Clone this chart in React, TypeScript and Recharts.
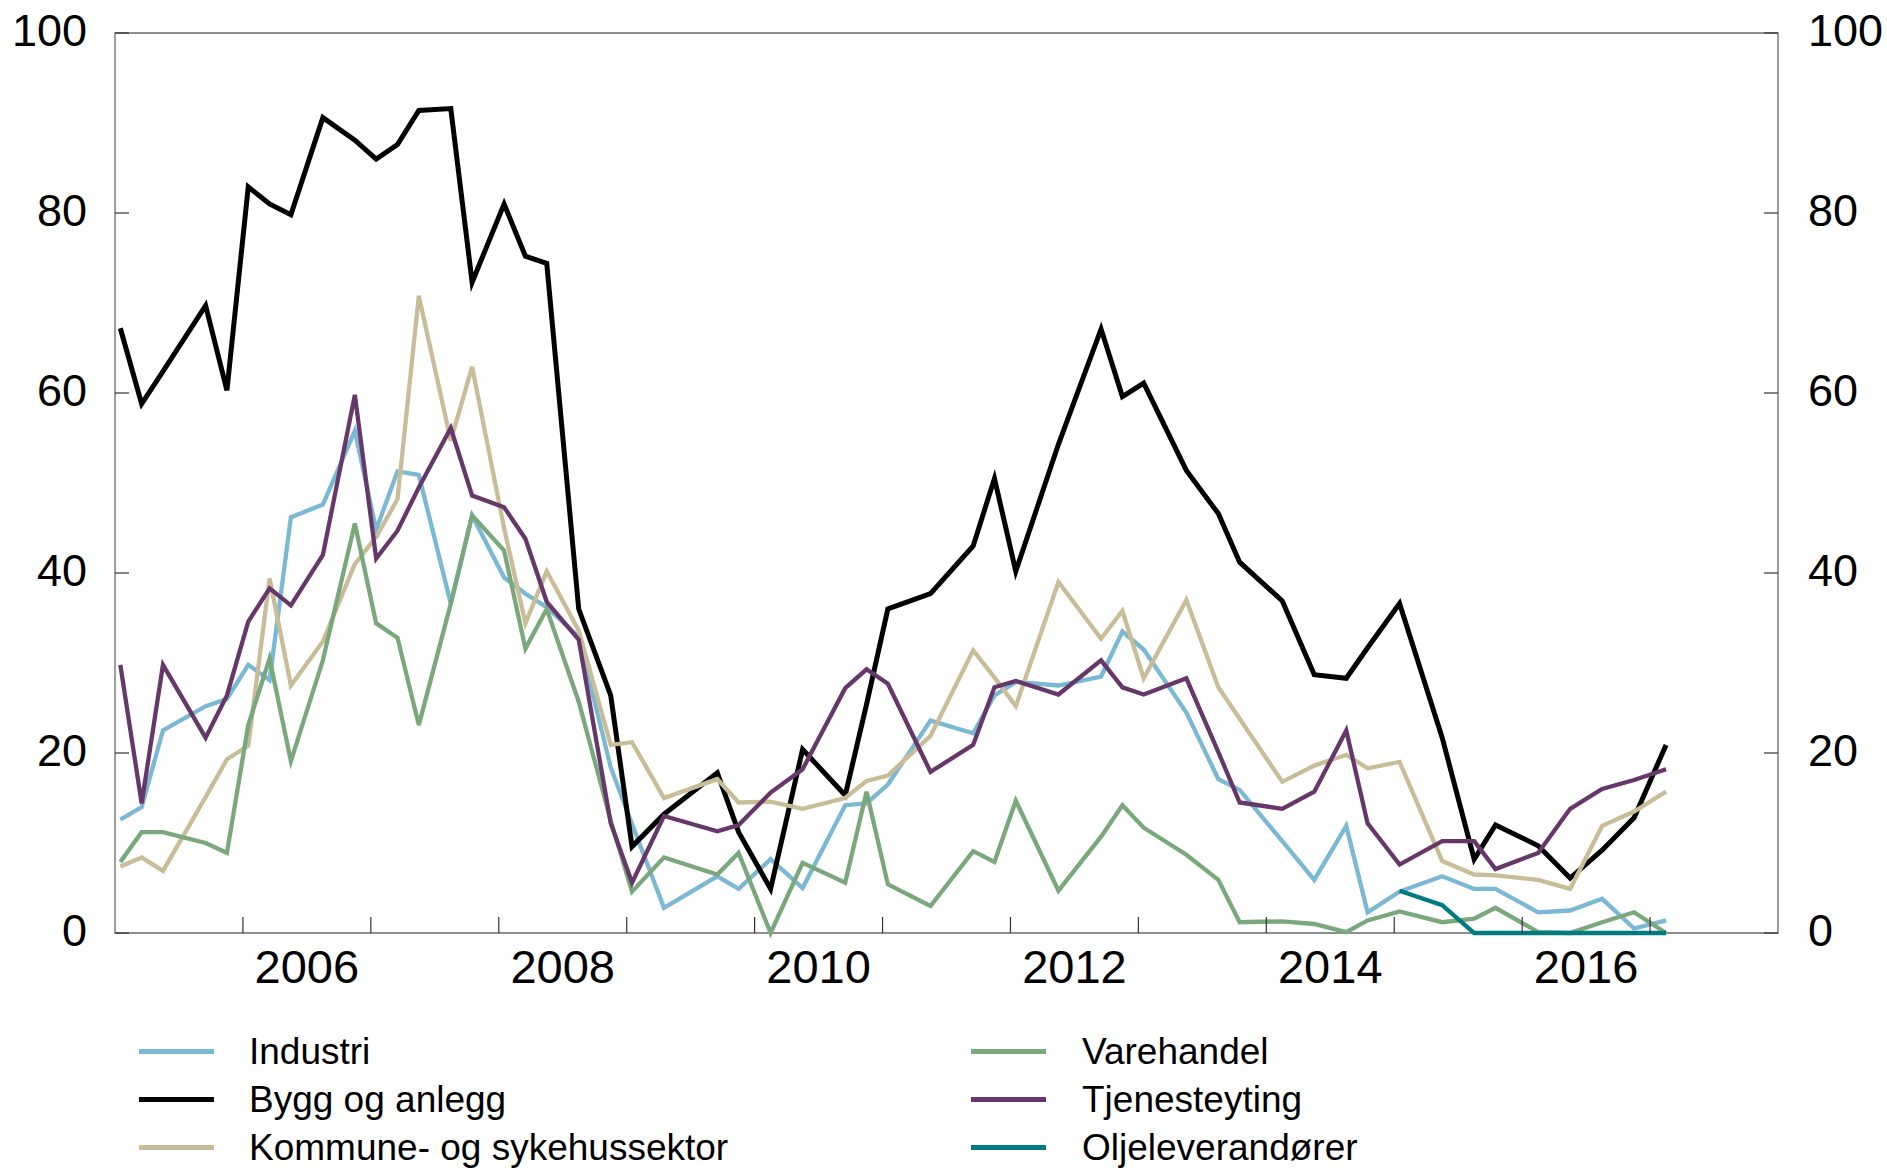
import React from 'react';
import { LineChart, Line, XAxis, YAxis, ReferenceArea } from 'recharts';

// Survey rounds (year-month)
const dates = [
  '2005-01', '2005-03', '2005-05', '2005-09', '2005-11',
  '2006-01', '2006-03', '2006-05', '2006-08', '2006-11',
  '2007-01', '2007-03', '2007-05', '2007-08', '2007-10',
  '2008-01', '2008-03', '2008-05', '2008-08', '2008-11',
  '2009-01', '2009-04', '2009-09', '2009-11',
  '2010-02', '2010-05', '2010-09', '2010-11',
  '2011-01', '2011-05', '2011-09', '2011-11',
  '2012-01', '2012-05', '2012-09', '2012-11',
  '2013-01', '2013-05', '2013-08', '2013-10',
  '2014-02', '2014-05', '2014-08', '2014-10',
  '2015-01', '2015-05', '2015-08', '2015-10',
  '2016-02', '2016-05', '2016-08', '2016-11',
  '2017-02',
];

const industri = [
  12.6, 14.0, 22.5, 25.2, 26.0,
  29.8, 28.1, 46.2, 47.6, 55.8,
  44.8, 51.3, 50.9, 36.6, 46.4,
  39.5, 37.7, 36.2, 32.9, 18.4,
  12.1, 2.8, 6.3, 4.9,
  8.2, 5.0, 14.2, 14.4,
  16.5, 23.6, 22.2, 26.4,
  27.9, 27.5, 28.5, 33.5,
  31.5, 24.5, 17.1, 15.9,
  10.2, 5.9, 11.9, 2.3,
  4.6, 6.3, 4.9, 4.9,
  2.3, 2.5, 3.8, 0.5,
  1.4,
];

const bygg = [
  67.2, 58.8, 62.4, 69.7, 60.3,
  82.9, 81.0, 79.8, 90.6, 88.1,
  86.0, 87.6, 91.4, 91.6, 72.3,
  81.0, 75.2, 74.4, 36.0, 26.4,
  9.6, 13.2, 17.8, 11.2,
  4.9, 20.4, 15.3, 25.4,
  36.0, 37.7, 43.0, 50.5,
  40.2, 54.3, 67.1, 59.6,
  61.1, 51.4, 46.6, 41.2,
  36.9, 28.7, 28.3, 31.7,
  36.6, 21.7, 8.2, 12.0,
  9.7, 6.1, 9.2, 12.8,
  20.9,
];

const kommune = [
  7.4, 8.4, 6.9, 15.1, 19.3,
  20.8, 39.4, 27.5, 32.4, 41.0,
  44.0, 48.2, 70.8, 54.7, 62.9,
  45.0, 34.4, 40.2, 33.6, 20.9,
  21.2, 15.0, 17.1, 14.5,
  14.6, 13.8, 15.0, 16.9,
  17.5, 21.9, 31.4, 28.4,
  25.2, 39.0, 32.7, 35.8,
  28.3, 37.0, 27.3, 23.8,
  16.8, 18.6, 19.8, 18.3,
  19.0, 8.0, 6.5, 6.4,
  5.9, 4.9, 11.9, 13.5,
  15.7,
];

const varehandel = [
  7.9, 11.2, 11.2, 10.0, 8.9,
  23.1, 30.5, 19.1, 30.3, 45.5,
  34.4, 32.8, 23.1, 36.6, 46.4,
  42.5, 31.6, 36.0, 25.7, 12.5,
  4.6, 8.4, 6.5, 8.9,
  0.0, 7.8, 5.6, 15.7,
  5.4, 3.0, 9.1, 7.9,
  14.7, 4.7, 10.7, 14.2,
  11.7, 8.7, 5.9, 1.2,
  1.3, 1.0, 0.1, 1.4,
  2.4, 1.2, 1.6, 2.8,
  0.1, 0.0, 1.2, 2.3,
  0.0,
];

const tjenesteyting = [
  29.8, 14.4, 29.8, 21.7, 26.4,
  34.6, 38.3, 36.4, 42.0, 59.8,
  41.6, 44.7, 49.5, 56.1, 48.6,
  47.3, 43.8, 36.8, 32.6, 12.2,
  5.6, 13.0, 11.3, 12.0,
  15.6, 18.2, 27.2, 29.3,
  27.7, 17.9, 20.9, 27.3,
  28.0, 26.5, 30.3, 27.3,
  26.5, 28.3, 20.1, 14.5,
  13.8, 15.7, 22.5, 12.2,
  7.6, 10.2, 10.2, 7.1,
  8.9, 13.8, 16.0, 17.0,
  18.2,
];

// Oljeleverandører only from 2015
const oljeDates = ['2015-01', '2015-05', '2015-08', '2015-10', '2016-02', '2016-05', '2016-08', '2016-11', '2017-02'];
const oljeValues = [4.7, 3.1, 0, 0, 0, 0, 0, 0, 0];

const yTicks = [0, 20, 40, 60, 80, 100];
const yearTicks = [2006, 2007, 2008, 2009, 2010, 2011, 2012, 2013, 2014, 2015, 2016, 2017];
const yearLabels = [2006.5, 2008.5, 2010.5, 2012.5, 2014.5, 2016.5];

const FONT = '"Liberation Sans", Arial, Helvetica, sans-serif';

const series = [
  { key: 'industri', name: 'Industri', color: '#7ab8d4', width: 4.3 },
  { key: 'bygg', name: 'Bygg og anlegg', color: '#000000', width: 5 },
  { key: 'kommune', name: 'Kommune- og sykehussektor', color: '#c8bd98', width: 4.3 },
  { key: 'varehandel', name: 'Varehandel', color: '#7aa87c', width: 4.3 },
  { key: 'tjenesteyting', name: 'Tjenesteyting', color: '#66386a', width: 4.3 },
  { key: 'olje', name: 'Oljeleverandører', color: '#007b80', width: 4.3 },
];

const toT = (d: string) => {
  const [y, m] = d.split('-').map(Number);
  return y + (m - 0.5) / 12;
};

const rows = dates.map((d, i) => {
  const oi = oljeDates.indexOf(d);
  return {
    t: toT(d),
    industri: industri[i],
    bygg: bygg[i],
    kommune: kommune[i],
    varehandel: varehandel[i],
    tjenesteyting: tjenesteyting[i],
    olje: oi >= 0 ? oljeValues[oi] : null,
  };
});

const XTick = (props: any) => {
  const { x, y, payload } = props;
  const v = payload.value as number;
  if (Number.isInteger(v)) {
    return <line x1={x} x2={x} y1={y} y2={y - 16} stroke="#333" strokeWidth={1.2} />;
  }
  return (
    <text x={x} y={y + 33} textAnchor="middle" dominantBaseline="central" fontSize={47} fontFamily={FONT} fill="#000">
      {Math.floor(v)}
    </text>
  );
};

const YTickLeft = (props: any) => {
  const { x, y, payload } = props;
  return (
    <g>
      <line x1={x} x2={x + 14} y1={y} y2={y} stroke="#333" strokeWidth={1.2} />
      <text x={x - 28} y={y - 3} textAnchor="end" dominantBaseline="central" fontSize={45} fontFamily={FONT} fill="#000">
        {payload.value}
      </text>
    </g>
  );
};

const YTickRight = (props: any) => {
  const { x, y, payload } = props;
  return (
    <g>
      <line x1={x - 14} x2={x} y1={y} y2={y} stroke="#333" strokeWidth={1.2} />
      <text x={x + 30} y={y - 3} textAnchor="start" dominantBaseline="central" fontSize={45} fontFamily={FONT} fill="#000">
        {payload.value}
      </text>
    </g>
  );
};

const legendRows = [1051, 1099, 1147];

export default function App() {
  return (
    <div
      style={{
        position: 'absolute',
        left: 0,
        top: 0,
        width: 1887,
        height: 1170,
        background: '#fff',
        fontFamily: FONT,
        overflow: 'hidden',
      }}
    >
      <LineChart width={1887} height={1000} data={rows} margin={{ top: 33, right: 0, bottom: 0, left: 0 }}>
        <XAxis
          xAxisId="t"
          dataKey="t"
          type="number"
          domain={[2005, 2018]}
          allowDataOverflow
          ticks={[...yearTicks, ...yearLabels].sort((a, b) => a - b)}
          interval={0}
          height={67}
          axisLine={false}
          tickLine={false}
          tickSize={0}
          tickMargin={0}
          tick={<XTick />}
        />
        <YAxis
          yAxisId="left"
          orientation="left"
          type="number"
          domain={[0, 100]}
          ticks={yTicks}
          interval={0}
          width={115}
          axisLine={false}
          tickLine={false}
          tickSize={0}
          tickMargin={0}
          tick={<YTickLeft />}
        />
        <YAxis
          yAxisId="right"
          orientation="right"
          type="number"
          domain={[0, 100]}
          ticks={yTicks}
          interval={0}
          width={109}
          axisLine={false}
          tickLine={false}
          tickSize={0}
          tickMargin={0}
          tick={<YTickRight />}
        />
        <ReferenceArea
          xAxisId="t"
          yAxisId="left"
          x1={2005}
          x2={2018}
          y1={0}
          y2={100}
          fill="none"
          stroke="#6b6b6b"
          strokeWidth={1.3}
        />
        {series.map((s) => (
          <Line
            key={s.key}
            xAxisId="t"
            yAxisId={s.key === 'olje' ? 'right' : 'left'}
            type="linear"
            dataKey={s.key}
            name={s.name}
            stroke={s.color}
            strokeWidth={s.width}
            dot={false}
            activeDot={false}
            connectNulls
            isAnimationActive={false}
          />
        ))}
      </LineChart>

      {series.map((s, i) => {
        const col = i < 3 ? 0 : 1;
        const cy = legendRows[i % 3];
        const swatchX = col === 0 ? 139 : 971;
        const textX = col === 0 ? 249 : 1082;
        return (
          <React.Fragment key={s.key}>
            <div
              style={{
                position: 'absolute',
                left: swatchX,
                top: cy - 2.5,
                width: 75,
                height: 5,
                background: s.color,
              }}
            />
            <div
              style={{
                position: 'absolute',
                left: textX,
                top: cy,
                transform: 'translateY(-50%)',
                fontSize: 37,
                lineHeight: 1,
                color: '#000',
                whiteSpace: 'nowrap',
              }}
            >
              {s.name}
            </div>
          </React.Fragment>
        );
      })}
    </div>
  );
}
